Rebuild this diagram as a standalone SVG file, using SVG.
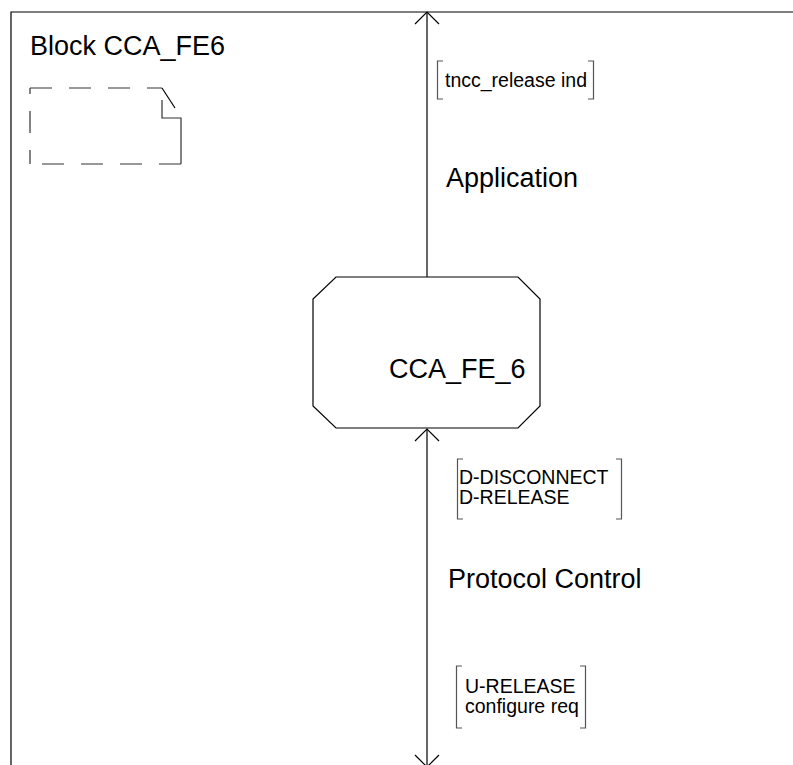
<svg xmlns="http://www.w3.org/2000/svg" width="793" height="765" viewBox="0 0 793 765">
  <style>
    .frame { fill: none; stroke: #000; stroke-width: 1.2; }
    .line { fill: none; stroke: #000; stroke-width: 1.2; }
    .dash { fill: none; stroke: #333; stroke-width: 1.2; stroke-dasharray: 22 17; }
    .bracket { fill: none; stroke: #555; stroke-width: 1.2; }
    .big { font-family: "Liberation Sans", Arial, sans-serif; font-size: 27px; fill: #000; }
    .small { font-family: "Liberation Sans", Arial, sans-serif; font-size: 19.5px; fill: #000; }
  </style>
  <defs>
    <!-- open V arrowhead pointing along the path direction -->
    <marker id="open-arrow" viewBox="-13 -13 14 26" refX="0" refY="0" markerWidth="14" markerHeight="26" markerUnits="userSpaceOnUse" orient="auto-start-reverse">
      <path d="M-12,-12 L0,0 L-12,12" fill="none" stroke="#000" stroke-width="1.2"/>
    </marker>
  </defs>

  <!-- block frame -->
  <g id="block-frame">
    <path class="frame" d="M11,765 L11,12 L793,12"/>
    <text class="big" x="30" y="55">Block CCA_FE6</text>
  </g>

  <!-- block reference symbol (dashed) -->
  <g id="block-symbol">
    <path class="dash" d="M30,88 L162,88"/>
    <path class="line" d="M162,88 L175,108" stroke="#333"/>
    <path class="dash" d="M162,100 L162,118 L181,118 L181,164" style="stroke-dasharray:none"/>
    <path class="dash" d="M181,164 L30,164"/>
    <path class="dash" d="M30,164 L30,88" style="stroke-dasharray:22 17;stroke-dashoffset:8"/>
  </g>

  <!-- process node -->
  <g id="cca-fe-6">
    <path class="line" d="M336,277 L518,277 L540,299 L540,406 L518,428 L336,428 L313,406 L313,299 Z" fill="#fff"/>
    <text class="big" x="389" y="378">CCA_FE_6</text>
  </g>

  <!-- channels -->
  <g id="connectors">
    <path class="line" d="M427,277 L427,12" marker-end="url(#open-arrow)"/>
    <path class="line" d="M427,767 L427,429" marker-start="url(#open-arrow)" marker-end="url(#open-arrow)"/>
  </g>

  <!-- channel labels -->
  <g id="label-application">
    <text class="big" x="446" y="187">Application</text>
  </g>
  <g id="label-protocol-control">
    <text class="big" x="448" y="588">Protocol Control</text>
  </g>

  <g id="signals-up">
    <path class="bracket" d="M443,61 L437.5,61 L437.5,99 L443,99"/>
    <path class="bracket" d="M588,61 L593.5,61 L593.5,99 L588,99"/>
    <text class="small" x="445" y="87">tncc_release ind</text>
  </g>

  <g id="signals-in">
    <path class="bracket" d="M463,459 L457.5,459 L457.5,519 L463,519"/>
    <path class="bracket" d="M616,459 L621.5,459 L621.5,519 L616,519"/>
    <text class="small" x="459" y="484">D-DISCONNECT</text>
    <text class="small" x="459" y="503.5">D-RELEASE</text>
  </g>

  <g id="signals-out">
    <path class="bracket" d="M462,666 L456.5,666 L456.5,728 L462,728"/>
    <path class="bracket" d="M580,666 L585.5,666 L585.5,728 L580,728"/>
    <text class="small" x="465" y="693">U-RELEASE</text>
    <text class="small" x="465" y="712.5">configure req</text>
  </g>
</svg>
